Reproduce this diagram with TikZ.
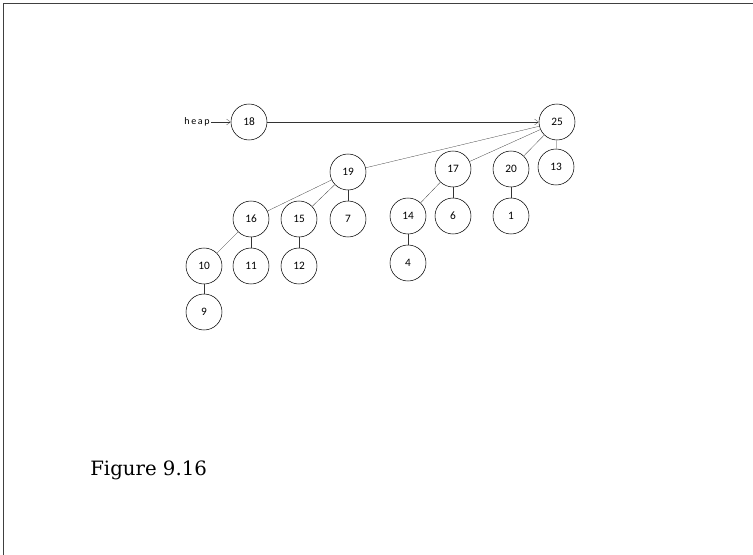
\documentclass[tikz,border=0pt]{standalone}
\usepackage{fontspec}
\setmainfont{DejaVu Serif}
\newfontfamily\keyfont{Carlito}
\usetikzlibrary{arrows.meta}

\begin{document}
\begin{tikzpicture}[x=0.75pt,y=-0.75pt,
 key/.style={circle,draw,thin,minimum size=27pt,inner sep=0pt,font=\keyfont\fontsize{8.5}{9}\selectfont},
 link/.style={very thin,black!80},
 ptr/.style={very thin,black!80,-{Straight Barb[length=3pt,width=4.5pt]}}]
 \useasboundingbox (0,0) rectangle (753,555);
 \draw[line width=1.3pt,black!75] (3.5,555)--(3.5,3.5)--(753,3.5);
 \node[key] (n18) at (249,122){18};
 \node[key] (n25) at (557,122){25};
 \node[key] (n19) at (348,172){19};
 \node[key] (n17) at (453,169){17};
 \node[key] (n20) at (511,169){20};
 \node[key] (n13) at (556,167){13};
 \node[key] (n16) at (251,219){16};
 \node[key] (n15) at (299,219){15};
 \node[key] (n7) at (348,219){7};
 \node[key] (n14) at (408,216){14};
 \node[key] (n6) at (453,216){6};
 \node[key] (n1) at (511,216){1};
 \node[key] (n10) at (204,266){10};
 \node[key] (n11) at (251,266){11};
 \node[key] (n12) at (299,266){12};
 \node[key] (n4) at (408,263){4};
 \node[key] (n9) at (204,312){9};
 \node[font=\keyfont\fontsize{7.5}{9}\selectfont,inner sep=1pt] (heap) at (197,122){h\,e\,a\,p};
 \draw[ptr] (heap)--(n18);
 \draw[ptr] (n18)--(n25);
 \foreach \a/\b in {n25/n19,n25/n17,n25/n20,n25/n13,n19/n16,n19/n15,n19/n7,
   n16/n10,n16/n11,n10/n9,n15/n12,n17/n14,n17/n6,n14/n4,n20/n1}
  \draw[link] (\a)--(\b);
 \node[anchor=base west,font=\fontsize{14.8}{18}\selectfont,inner sep=0pt] (caption) at (90,476){Figure 9.16};
\end{tikzpicture}
\end{document}
